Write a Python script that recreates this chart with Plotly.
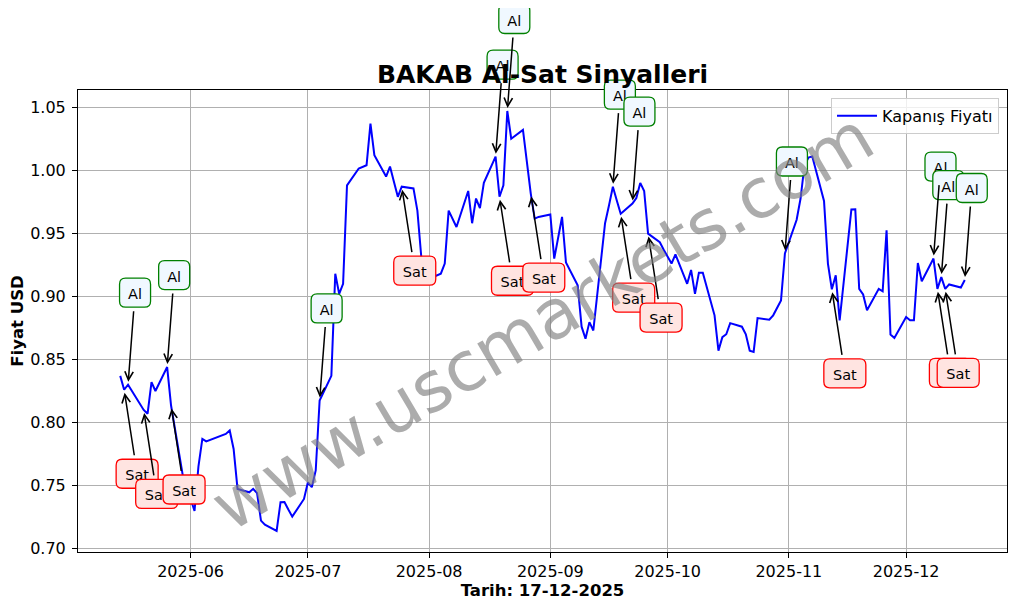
import plotly.graph_objects as go
from datetime import datetime

# ---------------- data ----------------
dates = [
    "2025-05-14", "2025-05-15", "2025-05-16", "2025-05-20", "2025-05-21", "2025-05-22", "2025-05-23",
    "2025-05-26", "2025-05-27", "2025-05-28", "2025-05-29", "2025-05-30",
    "2025-06-02", "2025-06-03", "2025-06-04", "2025-06-05", "2025-06-10", "2025-06-11", "2025-06-12",
    "2025-06-13", "2025-06-16", "2025-06-17", "2025-06-18", "2025-06-19", "2025-06-20", "2025-06-23",
    "2025-06-24", "2025-06-25", "2025-06-26", "2025-06-27", "2025-06-30",
    "2025-07-01", "2025-07-02", "2025-07-03", "2025-07-04", "2025-07-07", "2025-07-08", "2025-07-09",
    "2025-07-10", "2025-07-11", "2025-07-14", "2025-07-16", "2025-07-17", "2025-07-18", "2025-07-21",
    "2025-07-22", "2025-07-23", "2025-07-24", "2025-07-25", "2025-07-28", "2025-07-29", "2025-07-30",
    "2025-07-31", "2025-08-01",
    "2025-08-04", "2025-08-05", "2025-08-06", "2025-08-07", "2025-08-08", "2025-08-11", "2025-08-12",
    "2025-08-13", "2025-08-14", "2025-08-15", "2025-08-18", "2025-08-19", "2025-08-20", "2025-08-21",
    "2025-08-22", "2025-08-25", "2025-08-26", "2025-08-27", "2025-08-28", "2025-08-29",
    "2025-09-01", "2025-09-02", "2025-09-04", "2025-09-05", "2025-09-08", "2025-09-09", "2025-09-10",
    "2025-09-11", "2025-09-12", "2025-09-15", "2025-09-16", "2025-09-17", "2025-09-18", "2025-09-19",
    "2025-09-22", "2025-09-23", "2025-09-24", "2025-09-25", "2025-09-26", "2025-09-29", "2025-09-30",
    "2025-10-01", "2025-10-02", "2025-10-03", "2025-10-06", "2025-10-07", "2025-10-08", "2025-10-09",
    "2025-10-10", "2025-10-13", "2025-10-14", "2025-10-15", "2025-10-16", "2025-10-17", "2025-10-20",
    "2025-10-21", "2025-10-22", "2025-10-23", "2025-10-24", "2025-10-27", "2025-10-28", "2025-10-30",
    "2025-10-31",
    "2025-11-03", "2025-11-04", "2025-11-05", "2025-11-06", "2025-11-07", "2025-11-10", "2025-11-11",
    "2025-11-12", "2025-11-13", "2025-11-14", "2025-11-17", "2025-11-18", "2025-11-19", "2025-11-20",
    "2025-11-21", "2025-11-24", "2025-11-25", "2025-11-26", "2025-11-27", "2025-11-28",
    "2025-12-01", "2025-12-02", "2025-12-03", "2025-12-04", "2025-12-05", "2025-12-08", "2025-12-09",
    "2025-12-10", "2025-12-11", "2025-12-12", "2025-12-15", "2025-12-16",
]
prices = [
    0.837, 0.826, 0.830, 0.810, 0.807, 0.832, 0.825,
    0.844, 0.8135, 0.794, 0.775, 0.758,
    0.730, 0.765, 0.787, 0.785, 0.791, 0.7937, 0.779,
    0.7474, 0.7447, 0.7474, 0.744, 0.7222, 0.719, 0.714,
    0.7368, 0.737, 0.731, 0.7254, 0.7394,
    0.7526, 0.7487, 0.762, 0.8175, 0.837, 0.918, 0.902,
    0.910, 0.988, 1.0014, 1.004, 1.037, 1.012, 0.995,
    1.003, 0.991, 0.979, 0.987, 0.9856, 0.968, 0.9312,
    0.918, 0.914,
    0.918, 0.926, 0.968, 0.961, 0.955, 0.9836, 0.958,
    0.9776, 0.970, 0.990, 1.0108, 0.979, 0.988, 1.047,
    1.025, 1.032, 1.007, 0.9815, 0.9617, 0.963,
    0.965, 0.930, 0.963, 0.927, 0.9088, 0.876, 0.8664,
    0.8796, 0.873, 0.958, 0.972, 0.987, 0.976, 0.9656,
    0.9736, 0.978, 0.990, 0.9836, 0.9498, 0.943, 0.937,
    0.931, 0.926, 0.9333, 0.910, 0.921, 0.902, 0.9188,
    0.9188, 0.885, 0.857, 0.8677, 0.870, 0.8788, 0.876,
    0.870, 0.857, 0.856, 0.8828, 0.8815, 0.885, 0.8968,
    0.934,
    0.9608, 0.9776, 1.004, 1.010, 1.011, 0.9757, 0.926,
    0.9056, 0.9167, 0.881, 0.9689, 0.969, 0.906, 0.9016,
    0.889, 0.906, 0.904, 0.9524, 0.8698, 0.867,
    0.8836, 0.881, 0.881, 0.9265, 0.912, 0.930, 0.906,
    0.9153, 0.906, 0.9095, 0.907, 0.913,
]

al_dates = ["2025-05-16", "2025-05-26", "2025-07-04", "2025-08-18", "2025-08-21", "2025-09-17",
            "2025-09-22", "2025-10-31", "2025-12-08", "2025-12-10", "2025-12-16"]
sat_dates = ["2025-05-15", "2025-05-20", "2025-05-27", "2025-07-25", "2025-08-19", "2025-08-27",
             "2025-09-19", "2025-09-26", "2025-11-12", "2025-12-09", "2025-12-11"]

x_tick_vals = ["2025-06-01", "2025-07-01", "2025-08-01", "2025-09-01", "2025-10-01", "2025-11-01", "2025-12-01"]
x_tick_text = ["2025-06", "2025-07", "2025-08", "2025-09", "2025-10", "2025-11", "2025-12"]
y_tick_vals = [0.70, 0.75, 0.80, 0.85, 0.90, 0.95, 1.00, 1.05]

title_text = "BAKAB Al-Sat Sinyalleri"
x_title = "Tarih: 17-12-2025"
y_title = "Fiyat USD"
legend_name = "Kapanış Fiyatı"
watermark = "www.uscmarkets.com"

# ---------------- figure ----------------
FONT = "DejaVu Sans"
price_of = dict(zip(dates, prices))

dmin = datetime.fromisoformat(dates[0])
dmax = datetime.fromisoformat(dates[-1])
span = dmax - dmin
xr = [dmin - span * 0.05, dmax + span * 0.05]
pmin, pmax = min(prices), max(prices)
yr = [pmin - (pmax - pmin) * 0.05, pmax + (pmax - pmin) * 0.05]

fig = go.Figure()
fig.add_trace(go.Scatter(x=dates, y=prices, mode="lines", name=legend_name,
                         line=dict(color="#0000ff", width=2)))


def rrect(cx, cy, w, h, r):
    x0, x1 = cx - w / 2, cx + w / 2
    y0, y1 = cy - h / 2, cy + h / 2
    return (f"M{x0 + r},{y0} L{x1 - r},{y0} Q{x1},{y0} {x1},{y0 + r} "
            f"L{x1},{y1 - r} Q{x1},{y1} {x1 - r},{y1} L{x0 + r},{y1} "
            f"Q{x0},{y1} {x0},{y1 - r} L{x0},{y0 + r} Q{x0},{y0} {x0 + r},{y0} Z")


def add_signal(d, label, kind):
    v = price_of[d]
    if kind == "al":
        cx, cy, w = 7, 92, 31          # pixel offsets, y up
        edge, fill = "#008000", "#f0f8ff"
    else:
        cx, cy, w = 13, -84, 42
        edge, fill = "#ff0000", "#ffe4e1"
    h = 29
    edge_y = abs(cy) - h / 2 - 2.5
    tx = cx * edge_y / abs(cy)
    ty = -edge_y if kind == "al" else edge_y
    fig.add_annotation(x=d, y=v, xref="x", yref="y", text="", showarrow=True,
                       ax=tx, ay=ty, axref="pixel", ayref="pixel",
                       arrowhead=5, arrowsize=1.1, arrowwidth=1.5, arrowcolor="black",
                       standoff=3)
    # y given as a fraction of the y range so the box may leave the plot area (as in the original)
    yfrac = (v - yr[0]) / (yr[1] - yr[0])
    fig.add_shape(type="path", xref="x", yref="paper", xsizemode="pixel", ysizemode="pixel",
                  xanchor=d, yanchor=yfrac, path=rrect(cx, cy, w, h, 6),
                  fillcolor=fill, line=dict(color=edge, width=1.3), layer="above",
                  label=dict(text=label, font=dict(family=FONT, size=14.5, color="black"),
                             textposition="middle center"))


signals = [(d, "Al", "al") for d in al_dates] + [(d, "Sat", "sat") for d in sat_dates]
signals.sort(key=lambda s: s[0])
for d, lab, kind in signals:
    add_signal(d, lab, kind)

fig.add_annotation(text=watermark, xref="paper", yref="paper", x=0.5, y=0.5,
                   showarrow=False, textangle=-30.5,
                   font=dict(family=FONT, size=69, color="rgba(128,128,128,0.65)"))

# the page adds an 8px body margin, so margins are reduced by 8 px on the left/top
fig.update_layout(
    width=1017, height=607,
    margin=dict(l=70, r=18, t=82, b=63),
    paper_bgcolor="white", plot_bgcolor="white",
    font=dict(family=FONT, color="black", size=16),
    title=dict(text=f"<b>{title_text}</b>", x=0.5, xref="paper", xanchor="center",
               y=1 - 66 / 607, yref="container", yanchor="middle",
               font=dict(family=FONT, size=25, color="black")),
    showlegend=True,
    legend=dict(x=0.9914, y=0.983, xanchor="right", yanchor="top",
                bgcolor="rgba(255,255,255,0.8)", bordercolor="#cccccc", borderwidth=1,
                font=dict(family=FONT, size=16), itemwidth=40),
    xaxis=dict(type="date", range=xr, tickvals=x_tick_vals, ticktext=x_tick_text,
               showgrid=True, gridcolor="#b0b0b0", gridwidth=1,
               showline=True, linecolor="black", linewidth=1, mirror=True,
               ticks="outside", ticklen=5, tickcolor="black",
               tickfont=dict(family=FONT, size=16), automargin=False,
               title=dict(text=f"<b>{x_title}</b>", font=dict(family=FONT, size=16.5), standoff=2),
               zeroline=False),
    yaxis=dict(range=yr, tickvals=y_tick_vals, tickformat=".2f",
               showgrid=True, gridcolor="#b0b0b0", gridwidth=1,
               showline=True, linecolor="black", linewidth=1, mirror=True,
               ticks="outside", ticklen=5, tickcolor="black", ticklabelstandoff=3,
               tickfont=dict(family=FONT, size=16), automargin=False,
               title=dict(text=f"<b>{y_title}</b>", font=dict(family=FONT, size=16.5), standoff=8),
               zeroline=False),
)

fig.write_html("out.html")
